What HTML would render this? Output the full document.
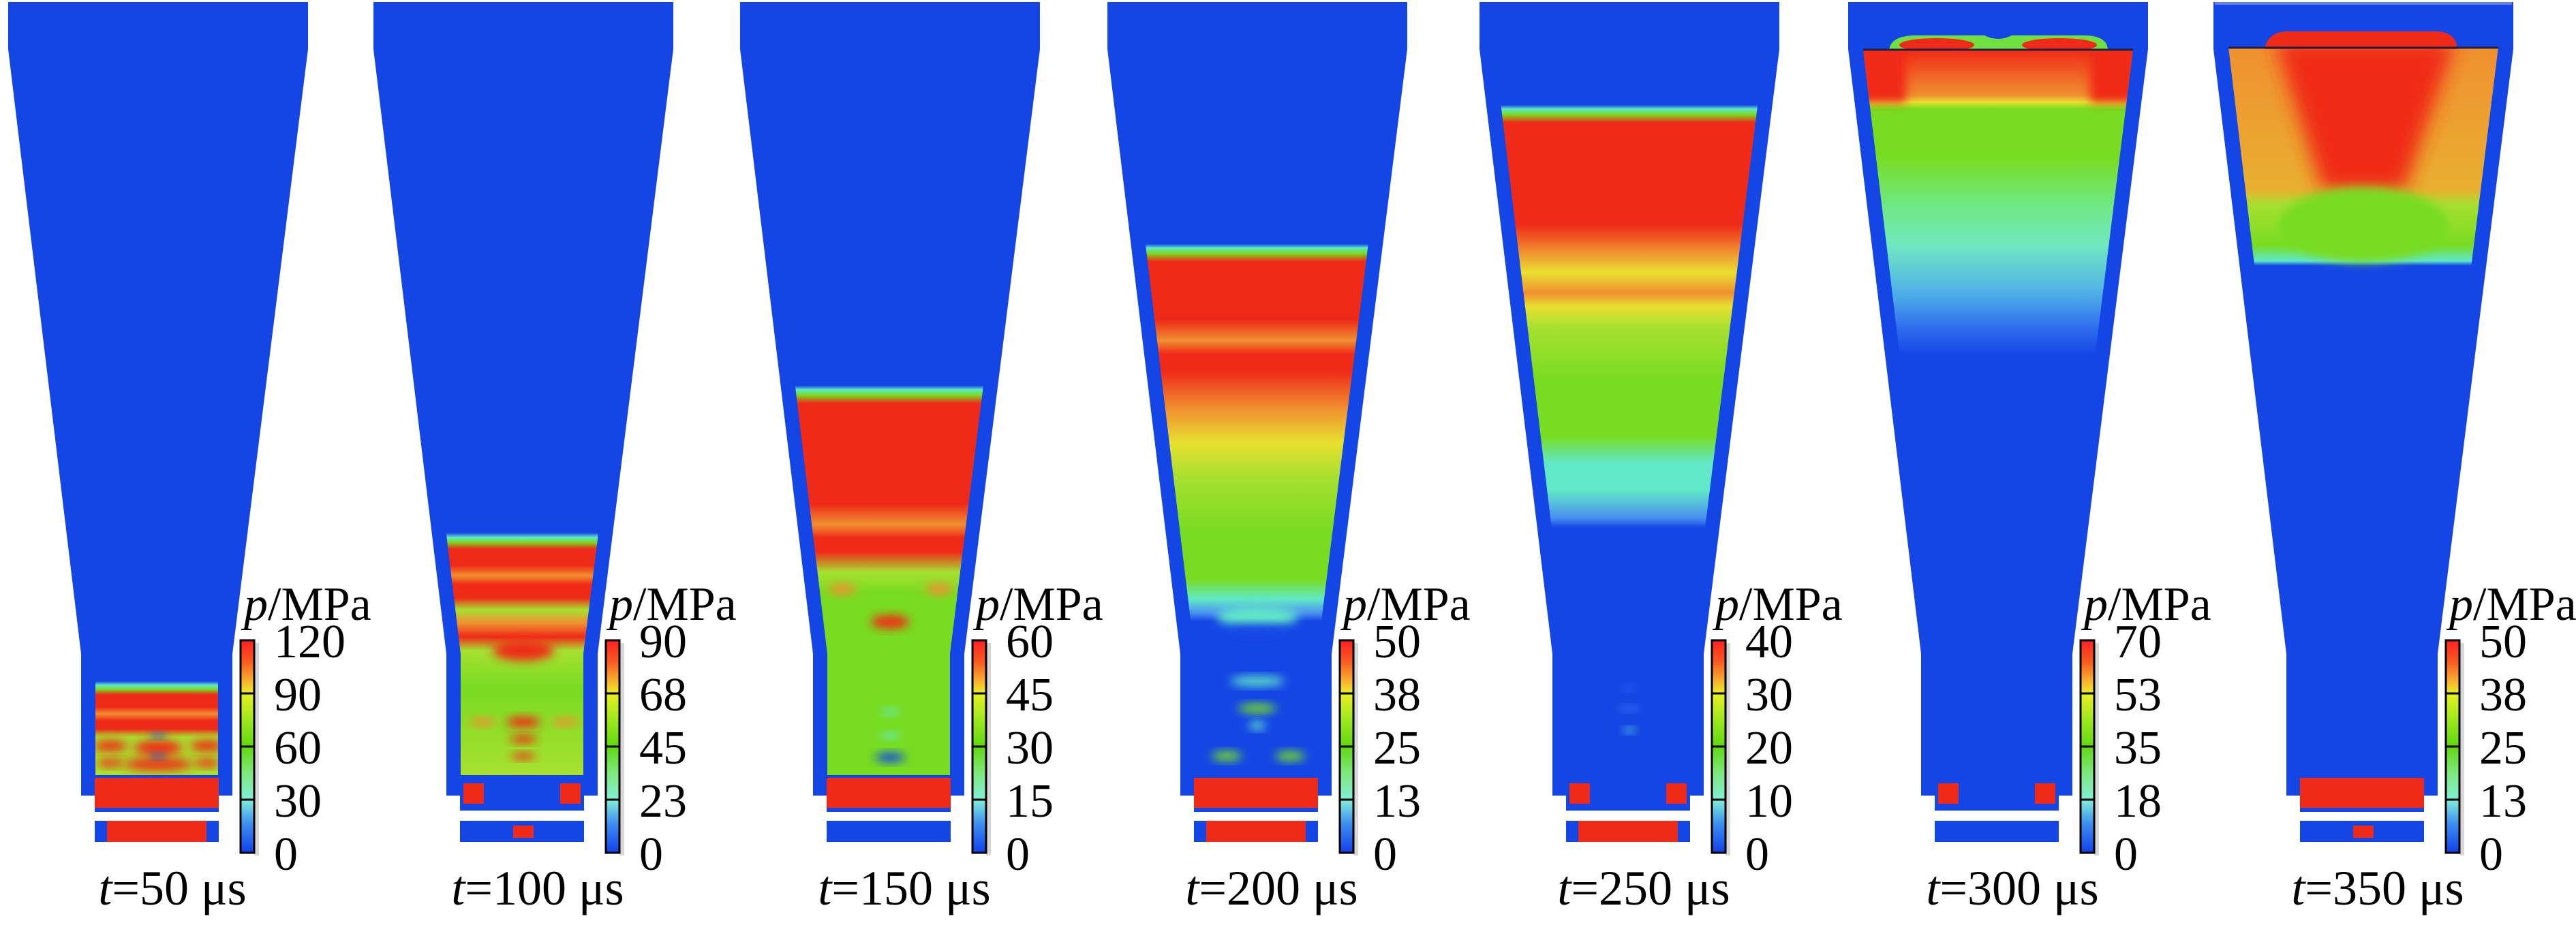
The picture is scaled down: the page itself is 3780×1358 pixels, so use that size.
<!DOCTYPE html>
<html><head><meta charset="utf-8"><style>
html,body{margin:0;padding:0;background:#fff;}
svg{display:block;}
</style></head><body>
<svg id="fig" xmlns="http://www.w3.org/2000/svg" width="3780" height="1358" viewBox="0 0 3780 1358">
<defs>
<filter id="blur" x="-50%" y="-50%" width="200%" height="200%"><feGaussianBlur stdDeviation="7"/></filter>
<filter id="blur2" x="-50%" y="-50%" width="200%" height="200%"><feGaussianBlur stdDeviation="14"/></filter>
<linearGradient id="cbar" x1="0" y1="0" x2="0" y2="1">
<stop offset="0" stop-color="#ff2020"/><stop offset="0.1" stop-color="#f85a20"/><stop offset="0.2" stop-color="#f8b830"/>
<stop offset="0.25" stop-color="#e8f020"/><stop offset="0.37" stop-color="#a0e820"/><stop offset="0.5" stop-color="#60d810"/>
<stop offset="0.63" stop-color="#80e880"/><stop offset="0.75" stop-color="#80f0d8"/><stop offset="0.86" stop-color="#4090f0"/>
<stop offset="1" stop-color="#1040e8"/></linearGradient>
</defs>
<g id="panels"></g>
</svg>
<script>
const times = ['50','100','150','200','250','300','350'];
const tickLabels = [
 ['120','90','60','30','0'],
 ['90','68','45','23','0'],
 ['60','45','30','15','0'],
 ['50','38','25','13','0'],
 ['40','30','20','10','0'],
 ['70','53','35','18','0'],
 ['50','38','25','13','0']
];
const offsets = [12,548,1086,1625,2171,2712,3248];
const B='#1446e6',C='#60e8c8',G='#78dc20',LG='#a8e030',Y='#e8e030',O='#f09030',R='#f02a18',LB='#4a90f0';
const fieldStops = [
 [[1000,B],[1006,C],[1012,G],[1020,R],[1038,R],[1048,O],[1058,R],[1070,R],[1082,LG],[1140,LG]],
 [[782,B],[789,C],[796,G],[806,R],[830,R],[845,O],[858,R],[878,R],[895,LG],[915,O],[935,R],[955,LG],[1010,G],[1135,LG]],
 [[566,B],[572,C],[580,G],[592,R],[740,R],[770,O],[790,R],[810,R],[840,LG],[870,G],[1135,G]],
 [[358,B],[364,C],[372,G],[384,R],[470,R],[500,O],[520,R],[545,R],[600,O],[650,Y],[700,LG],[780,G],[850,G],[880,C],[900,LB],[912,B]],
 [[154,B],[160,C],[168,G],[180,R],[330,R],[370,O],[400,Y],[430,O],[450,Y],[480,LG],[560,G],[640,G],[680,C],[720,C],[760,LB],[775,B]],
 [[73,R],[140,O],[150,Y],[160,G],[230,G],[300,'#70e880'],[360,'#70e8c0'],[430,'#50b0e8'],[480,'#3070ee'],[520,B]],
 [[69,O],[280,'#e8b030'],[300,LG],[360,G],[383,C],[390,B]]
];
const blobs = [
 [[220,1098,35,11,R],[150,1095,25,8,R],[292,1095,25,8,R],[220,1122,50,9,R],[220,1080,10,4,B],[220,1110,10,4,B],[150,1120,20,6,R],[292,1120,20,6,R]],
 [[220,955,45,15,R],[220,1060,25,8,R],[220,1085,20,6,R],[160,1060,20,6,O],[282,1060,20,6,O],[220,1110,18,5,R]],
 [[220,913,28,10,R],[150,865,20,8,O],[292,865,20,8,O],[220,1045,12,5,C],[220,1080,14,5,C],[220,1112,22,7,B]],
 [[220,905,60,15,C],[220,928,45,10,B],[220,1000,40,7,C],[220,1040,28,7,G],[220,1065,12,6,C],[175,1110,22,7,G],[268,1110,22,7,G]],
 [[220,1010,10,4,'#2a60f0'],[220,1040,15,4,'#3a70f0'],[220,1072,8,4,C]],
 [],
 [[220,330,125,55,G]]
];
const blockA = [R,B,R,R,B,B,R];
const blockB = [R,B,B,R,R,B,B];
const NS='http://www.w3.org/2000/svg';
const FONT='"Liberation Serif", "Times New Roman", serif';
const root=document.getElementById('panels');
function mk(tag,attrs,parent){const e=document.createElementNS(NS,tag);for(const k in attrs)e.setAttribute(k,attrs[k]);(parent||root).appendChild(e);return e;}
const cbTop=940,cbBot=1252;
for(let i=0;i<times.length;i++){
 const x0=offsets[i];
 const g=mk('g',{});
 
 
 const outer=`${x0},3 ${x0+440},3 ${x0+440},72 ${x0+329},960 ${x0+329},1168 ${x0+107},1168 ${x0+107},960 ${x0},72`;
 const dom=mk('polygon',{points:outer,fill:B},g);
 
 
 const top = i>=5 ? (i==5?73:69) : 75;
 const inner=`${x0+22},${top} ${x0+418},${top} ${x0+308},960 ${x0+308},1138 ${x0+128},1138 ${x0+128},960`;
 const cp=mk('clipPath',{id:'clip'+i},g);
 mk('polygon',{points:inner},cp);
 const lg=mk('linearGradient',{id:'f'+i,gradientUnits:'userSpaceOnUse',x1:0,x2:0,y1:0,y2:1358},g);
 fieldStops[i].forEach(s=>mk('stop',{offset:(s[0]/1358).toFixed(5),'stop-color':s[1]},lg));
 const fg=mk('g',{'clip-path':'url(#clip'+i+')'},g);
 
 
 mk('rect',{x:x0,y:0,width:440,height:1200,fill:'url(#f'+i+')'},fg);
 if(i==5){
  mk('rect',{x:x0+15,y:60,width:70,height:90,fill:R,filter:'url(#blur)'},fg);
  mk('rect',{x:x0+355,y:60,width:70,height:90,fill:R,filter:'url(#blur)'},fg);
 }
 if(i==6){
  mk('polygon',{points:`${x0+90},60 ${x0+355},60 ${x0+280},280 ${x0+160},280`,fill:R,filter:'url(#blur2)'},fg);
 }
 blobs[i].forEach(b=>{const e=mk('ellipse',{cx:x0+b[0],cy:b[1],rx:b[2],ry:b[3],fill:b[4],filter:'url(#blur)'},fg);
  
  });
 if(i==5){
  mk('path',{d:`M${x0+60},74 Q${x0+62},52 ${x0+100},52 L${x0+200},52 Q${x0+220},62 ${x0+240},52 L${x0+345},52 Q${x0+381},52 ${x0+381},74 Z`,fill:'#70e040'},g);
  mk('ellipse',{cx:x0+130,cy:66,rx:55,ry:10,fill:R},g);
  mk('ellipse',{cx:x0+310,cy:66,rx:55,ry:10,fill:R},g);
  mk('line',{x1:x0+22,y1:73,x2:x0+418,y2:73,stroke:'#202040','stroke-width':3},g);
 }
 if(i==6){
  mk('path',{d:`M${x0+75},72 Q${x0+80},46 ${x0+110},46 L${x0+325},46 Q${x0+356},46 ${x0+358},72 Z`,fill:R},g);
  mk('line',{x1:x0+22,y1:70,x2:x0+418,y2:70,stroke:'#202040','stroke-width':3},g);
  mk('rect',{x:x0+2,y:3,width:436,height:4,fill:'#6080f0'},g);
 }
 const ba=mk('rect',{x:x0+127,y:1142,width:182,height:48,fill:blockA[i]},g);
 
 
 if(blockA[i]==B){mk('rect',{x:x0+132,y:1150,width:30,height:30,fill:R},g);mk('rect',{x:x0+274,y:1150,width:30,height:30,fill:R},g);}
 else {mk('rect',{x:x0+127,y:1186,width:182,height:6,fill:B},g);}
 const bb=mk('rect',{x:x0+127,y:1205,width:182,height:31,fill:blockB[i]},g);
 
 
 if(blockB[i]==R){mk('rect',{x:x0+127,y:1205,width:18,height:31,fill:B},g);mk('rect',{x:x0+291,y:1205,width:18,height:31,fill:B},g);}
 else if(i==1||i==6){mk('rect',{x:x0+205,y:1212,width:30,height:18,fill:R},g);}
 const cx=x0+341;
 mk('rect',{x:cx+20,y:cbTop+4,width:7,height:cbBot-cbTop,fill:'#d8d8d8'},g);
 const cb=mk('rect',{x:cx,y:cbTop,width:20,height:cbBot-cbTop,fill:'url(#cbar)',stroke:'#000','stroke-width':3},g);
 
 
 const n=tickLabels[i].length;
 tickLabels[i].forEach((lab,k)=>{
  const ty=cbTop+(cbBot-cbTop)*k/(n-1);
  if(k>0&&k<n-1) mk('line',{x1:cx,y1:ty,x2:cx+20,y2:ty,stroke:'#000','stroke-width':3},g);
  const t=mk('text',{x:x0+390,y:ty+25,'font-size':70,'font-family':FONT,fill:'#000'},g);
  t.textContent=lab;
  
  
 });
 const ut=mk('text',{x:x0+346,y:910,'font-size':70,'font-family':FONT,fill:'#000'},g);
 ut.innerHTML='<tspan font-style="italic">p</tspan>/MPa';
 
 
 const tl=mk('text',{x:x0+241,y:1328,'font-size':72,'text-anchor':'middle','font-family':FONT,fill:'#000'},g);
 tl.innerHTML='<tspan font-style="italic">t</tspan>='+times[i]+' μs';
 
 
}
</script>
</body></html>
